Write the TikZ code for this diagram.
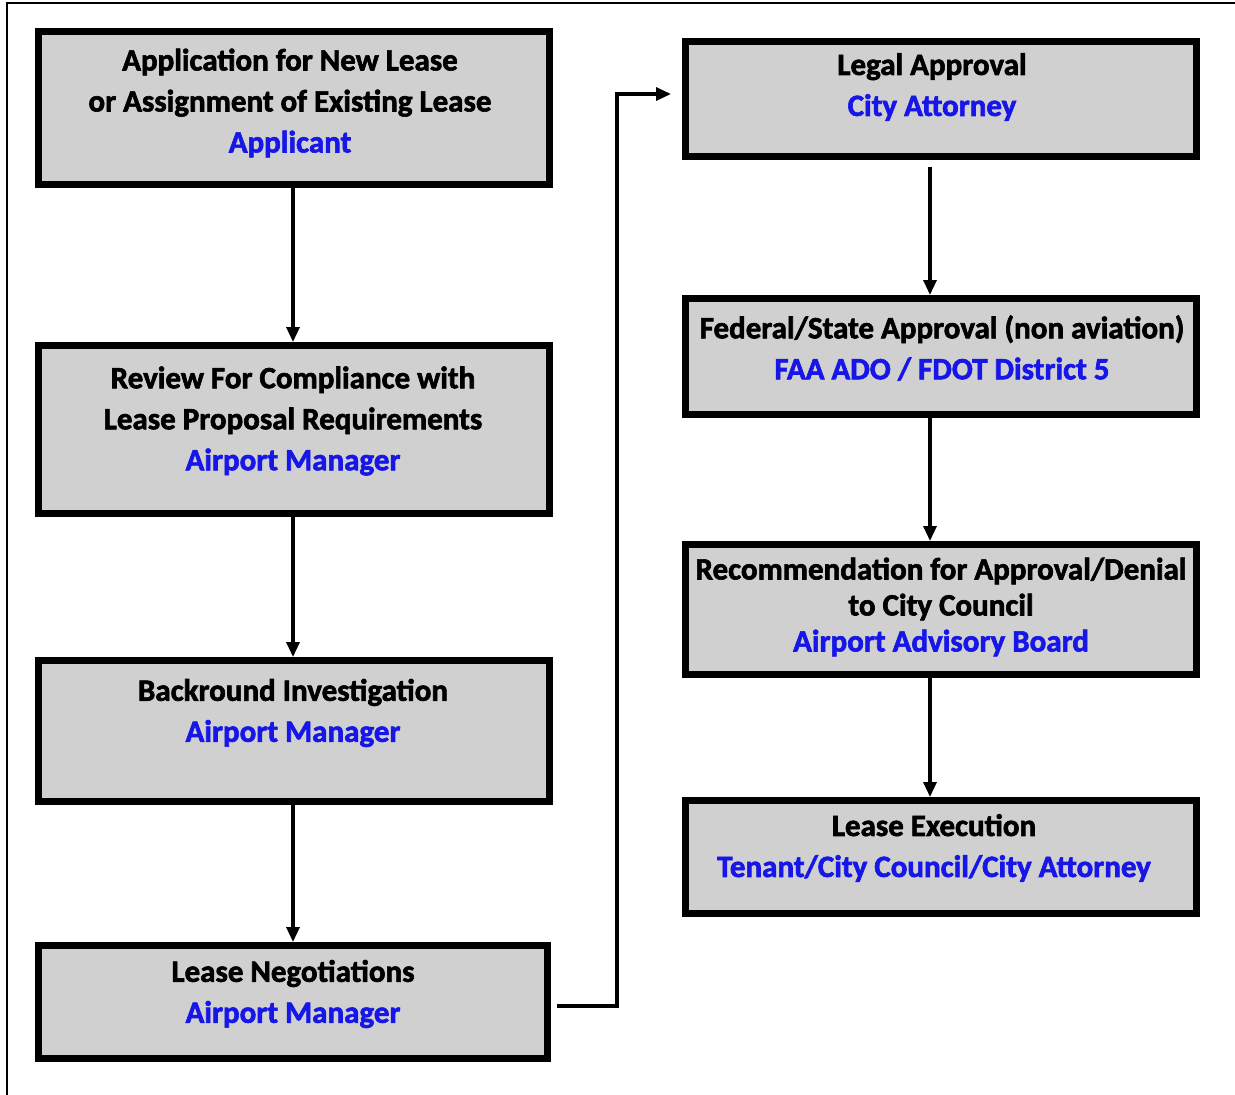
\documentclass[tikz,border=0pt]{standalone}
\usepackage{fontspec}
\setmainfont{Carlito}[BoldFeatures={FakeBold=2}]
\usetikzlibrary{arrows.meta}
\definecolor{boxgray}{HTML}{D0D0D0}
\definecolor{roleblue}{RGB}{22,22,232}
\tikzset{
  stepbox/.style={draw=black, line width=7pt, fill=boxgray, rectangle, inner sep=0pt, minimum width=511pt},
  label/.style={align=center, font=\fontsize{31}{41}\selectfont\bfseries, text=black, inner sep=0pt},
  conn/.style={draw=black, line width=3.2pt, -{Triangle[length=15pt,width=13pt]}},
}
\newcommand{\role}[1]{\textcolor{roleblue}{#1}}
\begin{document}
\begin{tikzpicture}[x=1pt,y=-1pt]
\useasboundingbox (0,0) rectangle (1235,1095);
\fill[white] (0,0) rectangle (1235,1095);
\draw[line width=2pt] (7,1095) -- (7,3) -- (1235,3);
% left column
\node[stepbox, minimum height=153pt] (b1) at (294,108) {};
\node[stepbox, minimum height=168pt] (b2) at (294,429.5) {};
\node[stepbox, minimum height=141pt] (b3) at (294,731) {};
\node[stepbox, minimum width=509pt, minimum height=113pt] (b4) at (293,1002) {};
% right column
\node[stepbox, minimum height=115pt] (r1) at (941,99) {};
\node[stepbox, minimum height=116pt] (r2) at (941,356.5) {};
\node[stepbox, minimum height=130pt] (r3) at (941,609.5) {};
\node[stepbox, minimum height=113pt] (r4) at (941,857) {};
% texts
\node[label] (t1) at (290,103) {Application for New Lease\\or Assignment of Existing Lease\\\role{Applicant}};
\node[label] (t2) at (293,421) {Review For Compliance with\\Lease Proposal Requirements\\\role{Airport Manager}};
\node[label] (t3) at (293,713) {Backround Investigation\\\role{Airport Manager}};
\node[label] (t4) at (293,994) {Lease Negotiations\\\role{Airport Manager}};
\node[label] (s1) at (932,87) {Legal Approval\\\role{City Attorney}};
\node[label] (s2) at (942,348) {Federal/State Approval (non aviation)\\\role{FAA ADO / FDOT District 5}};
\node[label, font=\fontsize{31}{36}\selectfont\bfseries] (s3) at (941,607) {Recommendation for Approval/Denial\\to City Council\\\role{Airport Advisory Board}};
\node[label] (s4) at (934,848) {Lease Execution\\\role{Tenant/City Council/City Attorney}};
% connectors
\draw[conn] ([xshift=-1pt]b1.south) -- ([xshift=-1pt]b2.north);
\draw[conn] ([xshift=-1pt]b2.south) -- ([xshift=-1pt]b3.north);
\draw[conn] ([xshift=-1pt]b3.south) -- ([xshift=0pt]b4.north);
\coordinate (k1) at (617,1006);
\coordinate (k2) at (617,94);
\draw[conn] ([xshift=6pt,yshift=-4pt]b4.east) -- (k1) -- (k2) -- ([xshift=-11pt,yshift=5pt]r1.west);
\draw[conn, shorten <=7pt] ([xshift=-11pt]r1.south) -- ([xshift=-11pt]r2.north);
\draw[conn] ([xshift=-11pt]r2.south) -- ([xshift=-11pt]r3.north);
\draw[conn] ([xshift=-11pt]r3.south) -- ([xshift=-11pt]r4.north);
\end{tikzpicture}
\end{document}
